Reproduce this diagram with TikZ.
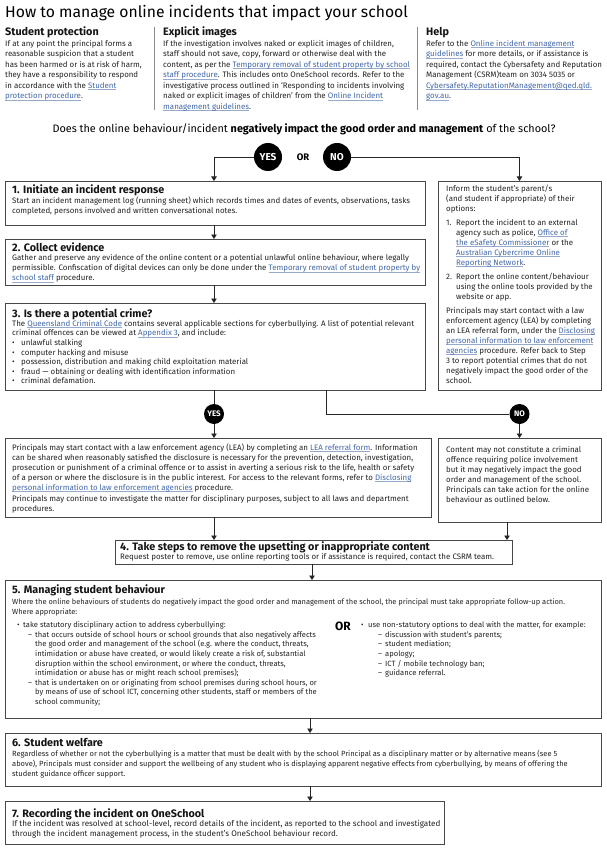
\documentclass[tikz,border=0pt]{standalone}
\usepackage{fontspec}
\setmainfont{Fira Sans}
\usetikzlibrary{arrows.meta}
\definecolor{linkc}{RGB}{66,104,168}
\definecolor{ulc}{RGB}{150,170,204}
\definecolor{txt}{RGB}{35,35,35}
\newsavebox\lnkbox
\newcommand\lnk[1]{\leavevmode\sbox\lnkbox{\color{linkc}#1}\rlap{\textcolor{ulc}{\rule[-1.7pt]{\wd\lnkbox}{0.6pt}}}\usebox\lnkbox}
\newcommand\fr{\rule{0pt}{8pt}}
\newcommand\bodyf{\fontsize{7.9}{10}\selectfont}
\newcommand\smallf{\fontsize{7.6}{9.6}\selectfont}
\newcommand\topf{\fontsize{7.9}{10.5}\selectfont}
\newcommand\headf{\fontsize{10.8}{12}\selectfont\bfseries}
\newcommand\bl{\makebox[9pt][l]{•}}
\begin{document}
\begin{tikzpicture}[x=1pt,y=-1pt,
  frame/.style={draw=black!72, line width=0.9pt, inner sep=0pt, outer sep=0pt, anchor=north west},
  head/.style={anchor=base west, inner sep=0pt, font=\headf, text=black!92},
  body/.style={anchor=north west, inner sep=0pt, align=left, font=\bodyf, text=txt},
  conn/.style={draw=black!85, line width=0.8pt},
  arr/.style={conn, -{Triangle[width=5.5pt,length=4.5pt]}},
  dot/.style={circle, fill=black, text=white, inner sep=0pt},
  sepl/.style={draw=black!45, line width=0.8pt}]
\useasboundingbox (0,0) rectangle (606,850);
\fill[white] (0,0) rectangle (606,850);

% ---------- title and top columns
\node[anchor=base west, inner sep=0pt, font=\fontsize{15.7}{18}\selectfont] (title) at (5,18) {How to manage online incidents that impact your school};

\node[head] (hsp) at (5,35.5) {Student protection};
\node[body,font=\topf] (tsp) at (5,38) {\fr If at any point the principal forms a\\ reasonable suspicion that a student\\ has been harmed or is at risk of harm,\\ they have a responsibility to respond\\ in accordance with the \lnk{Student}\\ \lnk{protection procedure}.};
\draw[sepl] (154,27) -- (154,110);
\node[head] (hei) at (163,35.5) {Explicit images};
\node[body,font=\topf] (tei) at (163,38) {\fr If the investigation involves naked or explicit images of children,\\ staff should not save, copy, forward or otherwise deal with the\\ content, as per the \lnk{Temporary removal of student property by school}\\ \lnk{staff procedure}. This includes onto OneSchool records. Refer to the\\ investigative process outlined in ‘Responding to incidents involving\\ naked or explicit images of children’ from the \lnk{Online Incident}\\ \lnk{management guidelines}.};
\draw[sepl] (417,27) -- (417,110);
\node[head] (hhelp) at (426,35.5) {Help};
\node[body,font=\topf] (thelp) at (426,38) {\fr Refer to the \lnk{Online incident management}\\ \lnk{guidelines} for more details, or if assistance is\\ required, contact the Cybersafety and Reputation\\ Management (CSRM)team on 3034 5035 or\\ \lnk{Cybersafety.ReputationManagement@qed.qld.}\\ \lnk{gov.au}.};

% ---------- question
\node[anchor=base, inner sep=0pt, font=\fontsize{10.85}{14}\selectfont] (q) at (304,133) {Does the online behaviour/incident \textbf{negatively impact the good order and management} of the school?};
\node[dot, minimum size=28pt, font=\fontsize{10}{12}\selectfont\bfseries] (yes) at (268,157) {YES};
\node[inner sep=0pt, font=\fontsize{9.5}{12}\selectfont\bfseries] (or) at (303,157) {OR};
\node[dot, minimum size=28pt, font=\fontsize{10}{12}\selectfont\bfseries] (no) at (337,157) {NO};

% ---------- frames
\node[frame, minimum width=420pt, minimum height=44pt] (b1) at (5,181) {};
\node[frame, minimum width=420pt, minimum height=46pt] (b2) at (5,239) {};
\node[frame, minimum width=420pt, minimum height=87pt] (b3) at (5,303) {};
\node[frame, minimum width=163pt, minimum height=209pt] (bA) at (438,181) {};
\node[frame, minimum width=426pt, minimum height=79pt] (bL) at (5,438) {};
\node[frame, minimum width=163pt, minimum height=84pt] (bC) at (438,438) {};
\node[frame, minimum width=397pt, minimum height=24pt] (b4) at (115,540) {};
\node[frame, minimum width=596pt, minimum height=138pt] (b5) at (5,580) {};
\node[frame, minimum width=596pt, minimum height=53pt] (b6) at (5,733) {};
\node[frame, minimum width=439pt, minimum height=43pt] (b7) at (5,801) {};

\node[dot, minimum size=20pt, font=\fontsize{8}{10}\selectfont\bfseries] (yes2) at (214,414) {YES};
\node[dot, minimum size=20pt, font=\fontsize{8}{10}\selectfont\bfseries] (no2) at (519.5,414) {NO};

% ---------- box 1
\node[head] (h1) at (12,193.5) {1. Initiate an incident response};
\node[body] (t1) at (12,195.5) {\fr Start an incident management log (running sheet) which records times and dates of events, observations, tasks\\ completed, persons involved and written conversational notes.};
% ---------- box 2
\node[head] (h2) at (12,251.5) {2. Collect evidence};
\node[body] (t2) at (12,252.5) {\fr Gather and preserve any evidence of the online content or a potential unlawful online behaviour, where legally\\ permissible. Confiscation of digital devices can only be done under the \lnk{Temporary removal of student property by}\\ \lnk{school staff} procedure.};
% ---------- box 3
\node[head] (h3) at (12,317) {3. Is there a potential crime?};
\node[body,font=\fontsize{7.9}{9.6}\selectfont] (t3) at (12,318) {\fr The \lnk{Queensland Criminal Code} contains several applicable sections for cyberbullying. A list of potential relevant\\ criminal offences can be viewed at \lnk{Appendix 3}, and include:\\ \bl unlawful stalking\\ \bl computer hacking and misuse\\ \bl possession, distribution and making child exploitation material\\ \bl fraud — obtaining or dealing with identification information\\ \bl criminal defamation.};
% ---------- box A
\node[body] (tA) at (446,183) {\fr Inform the student’s parent/s\\ (and student if appropriate) of their\\ options:\\[4pt]
\makebox[10pt][l]{1.}Report the incident to an external\\
\hspace*{10pt}agency such as police, \lnk{Office of}\\
\hspace*{10pt}\lnk{the eSafety Commissioner} or the\\
\hspace*{10pt}\lnk{Australian Cybercrime Online}\\
\hspace*{10pt}\lnk{Reporting Network}.\\[4pt]
\makebox[10pt][l]{2.}Report the online content/behaviour\\
\hspace*{10pt}using the online tools provided by the\\
\hspace*{10pt}website or app.\\[4pt]
Principals may start contact with a law\\
enforcement agency (LEA) by completing\\
an LEA referral form, under the \lnk{Disclosing}\\
\lnk{personal information to law enforcement}\\
\lnk{agencies} procedure. Refer back to Step\\
3 to report potential crimes that do not\\
negatively impact the good order of the\\
school.};
% ---------- LEA box
\node[body] (tL) at (12,442) {\fr Principals may start contact with a law enforcement agency (LEA) by completing an \lnk{LEA referral form}. Information\\
can be shared when reasonably satisfied the disclosure is necessary for the prevention, detection, investigation,\\
prosecution or punishment of a criminal offence or to assist in averting a serious risk to the life, health or safety\\
of a person or where the disclosure is in the public interest. For access to the relevant forms, refer to \lnk{Disclosing}\\
\lnk{personal information to law enforcement agencies} procedure.\\[1.5pt]
Principals may continue to investigate the matter for disciplinary purposes, subject to all laws and department\\
procedures.};
% ---------- content box
\node[body] (tC) at (446,444) {\fr Content may not constitute a criminal\\ offence requiring police involvement\\ but it may negatively impact the good\\ order and management of the school.\\ Principals can take action for the online\\ behaviour as outlined below.};
% ---------- box 4
\node[head] (h4) at (120,550.5) {4. Take steps to remove the upsetting or inappropriate content};
\node[body] (t4) at (120,551.5) {\fr Request poster to remove, use online reporting tools or if assistance is required, contact the CSRM team.};
% ---------- box 5
\node[head] (h5) at (12,593) {5. Managing student behaviour};
\node[body,font=\fontsize{7.45}{9.6}\selectfont] (t5) at (12,596.5) {\fr Where the online behaviours of students do negatively impact the good order and management of the school, the principal must take appropriate follow-up action.\\ Where appropriate:};
\node[body,font=\smallf] (t5l) at (17,619.5) {\fr \makebox[6pt][l]{•}take statutory disciplinary action to address cyberbullying:\\
\hspace*{11pt}\makebox[7pt][l]{–}that occurs outside of school hours or school grounds that also negatively affects\\
\hspace*{18pt}the good order and management of the school (e.g. where the conduct, threats,\\
\hspace*{18pt}intimidation or abuse have created, or would likely create a risk of, substantial\\
\hspace*{18pt}disruption within the school environment, or where the conduct, threats,\\
\hspace*{18pt}intimidation or abuse has or might reach school premises);\\
\hspace*{11pt}\makebox[7pt][l]{–}that is undertaken on or originating from school premises during school hours, or\\
\hspace*{18pt}by means of use of school ICT, concerning other students, staff or members of the\\
\hspace*{18pt}school community;};
\node[anchor=base west, inner sep=0pt, font=\fontsize{12}{14}\selectfont\bfseries] (or5) at (335,630) {OR};
\node[body,font=\smallf] (t5r) at (361,619.5) {\fr \makebox[7pt][l]{•}use non-statutory options to deal with the matter, for example:\\
\hspace*{17pt}\makebox[7pt][l]{–}discussion with student’s parents;\\
\hspace*{17pt}\makebox[7pt][l]{–}student mediation;\\
\hspace*{17pt}\makebox[7pt][l]{–}apology;\\
\hspace*{17pt}\makebox[7pt][l]{–}ICT / mobile technology ban;\\
\hspace*{17pt}\makebox[7pt][l]{–}guidance referral.};
% ---------- box 6
\node[head] (h6) at (12,746) {6. Student welfare};
\node[body,font=\fontsize{7.5}{10.3}\selectfont] (t6) at (12,748) {\fr Regardless of whether or not the cyberbullying is a matter that must be dealt with by the school Principal as a disciplinary matter or by alternative means (see 5\\ above), Principals must consider and support the wellbeing of any student who is displaying apparent negative effects from cyberbullying, by means of offering the\\ student guidance officer support.};
% ---------- box 7
\node[head] (h7) at (12,817) {7. Recording the incident on OneSchool};
\node[body,font=\fontsize{8.1}{10}\selectfont] (t7) at (12,818.5) {\fr If the incident was resolved at school-level, record details of the incident, as reported to the school and investigated\\ through the incident management process, in the student’s OneSchool behaviour record.};

% ---------- connectors
\draw[arr] (yes.west) -| ([xshift=209pt]b1.north west);
\draw[arr] (no.east) -| (bA.north);
\draw[arr] ([xshift=209pt]b1.south west) -- ([xshift=209pt]b2.north west);
\draw[arr] ([xshift=209pt]b2.south west) -- ([xshift=209pt]b3.north west);
\draw[conn] ([xshift=209pt]b3.south west) -- (yes2.north);
\draw[arr] (yes2.south) -- (yes2.south |- bL.north);
\draw[conn] ([xshift=321pt]b3.south west) |- (no2.west);
\draw[arr] (no2.south) -- (no2.south |- bC.north);
\draw[arr] ([xshift=209pt]bL.south west) -- ([xshift=99pt]b4.north west);
\draw[arr] ([xshift=69pt]bC.south west) -- ([xshift=392pt]b4.north west);
\draw[arr] ([xshift=197pt]b4.south west) -- ([xshift=307pt]b5.north west);
\draw[arr] ([xshift=305pt]b5.south west) -- ([xshift=305pt]b6.north west);
\draw[arr] ([xshift=305pt]b6.south west) -- ([xshift=305pt]b7.north west);
\end{tikzpicture}
\end{document}
